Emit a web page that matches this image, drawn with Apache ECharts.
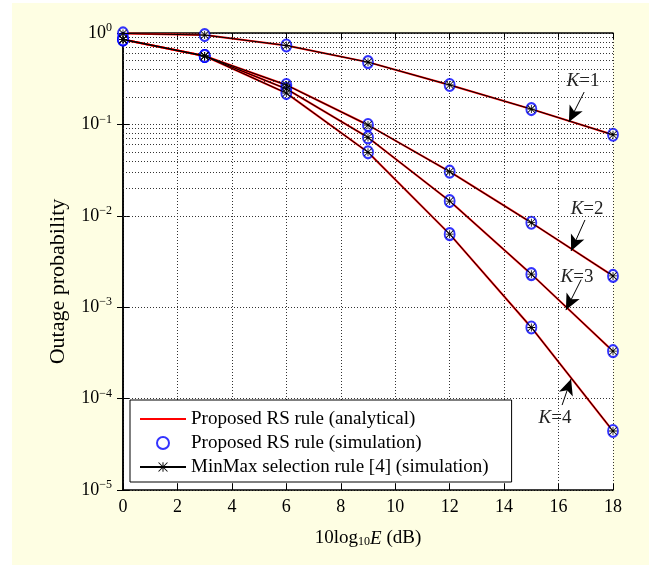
<!DOCTYPE html>
<html>
<head>
<meta charset="utf-8">
<script src="https://cdn.jsdelivr.net/npm/echarts@6/dist/echarts.min.js"></script>
<style>
html,body{margin:0;padding:0;background:#ffffff;}
#bg{position:absolute;left:12px;top:3px;width:637px;height:562px;background:#fefee3;}
#chart{position:absolute;left:0;top:0;width:649px;height:565px;}
</style>
</head>
<body>
<div id="bg"></div>
<div id="chart"></div>
<script>
// ---- data ----
const snrDb = [0, 3, 6, 9, 12, 15, 18];
const outK1 = [0.99, 0.95, 0.73, 0.48, 0.27, 0.147, 0.077];
const outK2 = [0.85, 0.56, 0.27, 0.0985, 0.0304, 0.0084, 0.0022];
const outK3 = [0.85, 0.56, 0.245, 0.072, 0.0145, 0.0023, 0.00033];
const outK4 = [0.85, 0.56, 0.22, 0.0495, 0.0063, 0.0006, 0.0000442];
const curveNames = ['Proposed RS rule (analytical)', 'Proposed RS rule (simulation)', 'MinMax selection rule [4] (simulation)'];
const minorGridY = [2e-5,3e-5,4e-5,5e-5,6e-5,7e-5,8e-5,9e-5,
  2e-4,3e-4,4e-4,5e-4,6e-4,7e-4,8e-4,9e-4,
  2e-3,3e-3,4e-3,5e-3,6e-3,7e-3,8e-3,9e-3,
  2e-2,3e-2,4e-2,5e-2,6e-2,7e-2,8e-2,9e-2,
  0.2,0.3,0.4,0.5,0.6,0.7,0.8,0.9];
// annotations: K label, label position, arrow tail, arrow tip (data coordinates)
const kLabels = ['1', '2', '3', '4'];
const kLabelPos = [[16.9, 0.30], [17.05, 0.0119], [16.68, 0.00215], [15.87, 0.000062]];
const kArrowTail = [[16.94, 0.226], [16.97, 0.009], [16.83, 0.0020], [16.13, 0.000085]];
const kArrowTip = [[16.38, 0.106], [16.46, 0.00412], [16.27, 0.00093], [16.46, 0.000164]];

const allK = [outK1, outK2, outK3, outK4];
const pairs = arr => snrDb.map((x, i) => [x, arr[i]]);
const FONT = '"Liberation Serif", "Times New Roman", serif';
const STAR = 'path://M9,0H11V20H9Z M0,9H20V11H0Z M1.4,0L20,18.6L18.6,20L0,1.4Z M18.6,0L20,1.4L1.4,20L0,18.6Z';
const dotted = [1, 2];
const GRIDC = '#333';

const series = [];
allK.forEach(arr => {
  series.push({
    name: curveNames[0], type: 'line', data: pairs(arr), symbol: 'none',
    lineStyle: {color: '#ff0000', width: 2}, itemStyle: {color: '#ff0000'}, z: 3, silent: true
  });
});
allK.forEach(arr => {
  series.push({
    name: curveNames[1], type: 'scatter', data: pairs(arr), symbol: 'emptyCircle',
    symbolSize: [10, 12], itemStyle: {color: '#0000ff', borderColor: '#0000ff', borderWidth: 1.2}, z: 4, silent: true
  });
});
allK.forEach(arr => {
  series.push({
    name: curveNames[2], type: 'line', data: pairs(arr), symbol: STAR, symbolSize: 8, showAllSymbol: true,
    lineStyle: {color: '#000000', width: 1}, itemStyle: {color: '#000000'}, z: 5, silent: true
  });
});
// helper series carrying minor grid lines
series.push({
  type: 'line', data: [], silent: true, z: 1,
  markLine: {
    silent: true, symbol: 'none', animation: false,
    label: {show: false},
    lineStyle: {color: GRIDC, type: dotted, width: 1},
    data: minorGridY.map(v => ({yAxis: v}))
  }
});
// helper series carrying the K annotations
series.push({
  type: 'line', data: [], silent: true, z: 6,
  markLine: {
    silent: true, animation: false, symbol: ['none', 'arrow'], symbolSize: [11, 16],
    label: {show: false},
    lineStyle: {color: '#000', type: 'solid', width: 1},
    itemStyle: {color: '#000'},
    data: kLabels.map((k, i) => [{coord: kArrowTail[i]}, {coord: kArrowTip[i]}])
  },
  markPoint: {
    silent: true, animation: false, symbol: 'circle', symbolSize: 0,
    itemStyle: {color: 'rgba(0,0,0,0)'},
    label: {
      show: true, position: 'inside', color: '#222',
      rich: {
        k: {fontFamily: FONT, fontSize: 19, fontStyle: 'italic', color: '#222'},
        t: {fontFamily: FONT, fontSize: 19, color: '#222'}
      }
    },
    data: kLabels.map((k, i) => ({coord: kLabelPos[i], value: k,
      label: {formatter: '{k|K}{t|=' + k + '}'}}))
  }
});

const chart = echarts.init(document.getElementById('chart'), null, {renderer: 'canvas'});
chart.setOption({
  animation: false,
  backgroundColor: 'transparent',
  grid: {left: 123, right: 36, top: 33, bottom: 75, show: true, backgroundColor: '#ffffff', borderWidth: 0},
  legend: {
    data: [
      {name: curveNames[0], itemStyle: {opacity: 0}},
      {name: curveNames[1]},
      {name: curveNames[2]}
    ],
    orient: 'vertical', left: 130, top: 400,
    backgroundColor: '#ffffff', borderColor: '#000', borderWidth: 1, borderRadius: 0,
    padding: [9, 23, 5, 9], itemWidth: 46, itemHeight: 12, itemGap: 4, selectedMode: false,
    textStyle: {fontFamily: FONT, fontSize: 19, color: '#000', lineHeight: 20}
  },
  xAxis: [{
    type: 'value', min: 0, max: 18, interval: 2, position: 'bottom',
    name: '{n|10log}{sub|10}{e|E}{n| (dB)}', nameLocation: 'middle', nameGap: 38,
    nameTextStyle: {
      rich: {
        n: {fontFamily: FONT, fontSize: 19, color: '#000', lineHeight: 20, verticalAlign: 'bottom'},
        e: {fontFamily: FONT, fontSize: 19, color: '#000', fontStyle: 'italic', lineHeight: 20, verticalAlign: 'bottom'},
        sub: {fontFamily: FONT, fontSize: 12, color: '#000', lineHeight: 12, padding: [5, 0, 0, 0], verticalAlign: 'bottom'}
      }
    },
    axisLine: {lineStyle: {color: '#000', width: 1.5}},
    axisTick: {inside: true, length: 6, lineStyle: {color: '#000'}},
    axisLabel: {fontFamily: FONT, fontSize: 18, color: '#000', margin: 8},
    splitLine: {show: true, lineStyle: {color: GRIDC, type: dotted, width: 1}}
  }, {
    type: 'value', min: 0, max: 18, interval: 2, position: 'top',
    axisLine: {show: true, onZero: false, lineStyle: {color: '#000', width: 1.5}},
    axisTick: {inside: true, length: 6, lineStyle: {color: '#000'}},
    axisLabel: {show: false}, splitLine: {show: false}
  }],
  yAxis: [{
    type: 'log', logBase: 10, min: 0.00001, max: 1, interval: 1, position: 'left',
    name: 'Outage probability', nameLocation: 'middle', nameGap: 54, nameRotate: 90,
    nameTextStyle: {fontFamily: FONT, fontSize: 22, color: '#000', padding: [0, 40, 0, 0]},
    axisLine: {show: true, lineStyle: {color: '#000', width: 1.5}},
    axisTick: {show: true, inside: true, length: 6, lineStyle: {color: '#000'}},
    axisLabel: {
      margin: 11,
      formatter: v => {
        const e = Math.round(Math.log10(v));
        return '{b|10}{s|' + (e < 0 ? '\u2212' + (-e) : e) + '}';
      },
      rich: {
        b: {fontFamily: FONT, fontSize: 18, color: '#000', lineHeight: 18, verticalAlign: 'bottom'},
        s: {fontFamily: FONT, fontSize: 12, color: '#000', lineHeight: 12, padding: [0, 0, 8, 0], verticalAlign: 'bottom'}
      }
    },
    splitLine: {show: true, lineStyle: {color: GRIDC, type: dotted, width: 1}},
    minorTick: {show: false}, minorSplitLine: {show: false}
  }, {
    type: 'log', logBase: 10, min: 0.00001, max: 1, interval: 1, position: 'right',
    axisLine: {show: true, lineStyle: {color: '#000', width: 1.5}},
    axisTick: {show: true, inside: true, length: 6, lineStyle: {color: '#000'}},
    axisLabel: {show: false}, splitLine: {show: false}
  }],
  series: series
});
</script>
</body>
</html>
